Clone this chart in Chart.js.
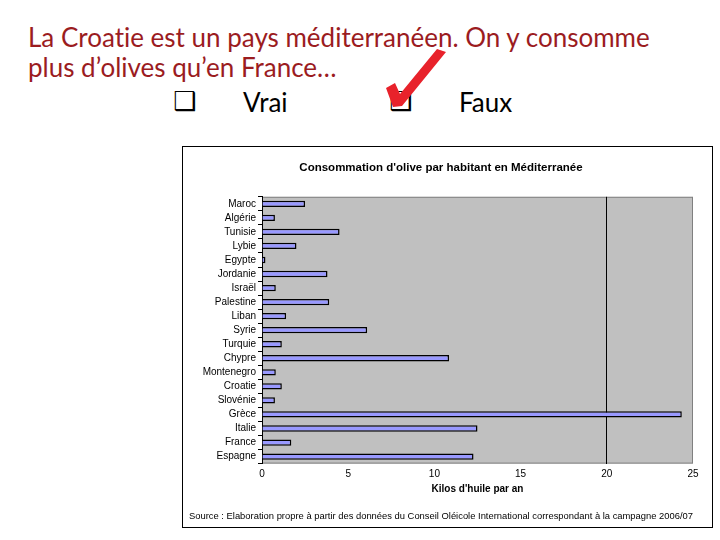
<!DOCTYPE html>
<html>
<head>
<meta charset="utf-8">
<script src="https://cdn.jsdelivr.net/npm/chart.js@4.4.1/dist/chart.umd.min.js"></script>
<style>
  html, body { margin: 0; padding: 0; background: #fff; width: 720px; height: 540px; overflow: hidden; }
  body { position: relative; }
  .question { position: absolute; left: 28px; top: 22px; font-family: Lato, 'Open Sans', sans-serif;
              font-size: 26px; line-height: 30px; color: #9b1c1f; white-space: nowrap;
              font-variant-ligatures: none; }
  .opt { position: absolute; top: 87px; font-family: Lato, 'Open Sans', sans-serif; font-size: 26px;
         line-height: 30px; color: #000; white-space: nowrap; }
  .box { font-family: 'DejaVu Sans', sans-serif; font-size: 26px; top: 86px; font-weight: bold; }
  #check { position: absolute; left: 0; top: 0; }
  #frame { position: absolute; left: 182px; top: 146px; width: 529px; height: 380px; border: 1px solid #000; }
  #chart { display: block; }
</style>
</head>
<body>
<div class="question">La Croatie est un pays méditerranéen. On y consomme<br>plus d’olives qu’en France…</div>
<div class="opt box" style="left:173px">❑</div>
<div class="opt" style="left:243px">Vrai</div>
<div class="opt box" style="left:389px">❑</div>
<div class="opt" style="left:459px">Faux</div>
<svg id="check" width="720" height="130">
  <polygon points="386,88 395,83 400,94 437,49 446,52 402,106 393,107" fill="#e8222b"/>
</svg>
<div id="frame"><canvas id="chart" width="529" height="380"></canvas></div>

<script>
// ── Data ─────────────────────────────────────────────────────────────

const COUNTRIES = ['Maroc', 'Algérie', 'Tunisie', 'Lybie', 'Egypte', 'Jordanie', 'Israël',
                   'Palestine', 'Liban', 'Syrie', 'Turquie', 'Chypre', 'Montenegro', 'Croatie',
                   'Slovénie', 'Grèce', 'Italie', 'France', 'Espagne'];
const KILOS     = [2.5, 0.75, 4.5, 2.0, 0.2, 3.8, 0.8, 3.9, 1.4, 6.1, 1.15, 10.85, 0.8, 1.15,
                   0.75, 24.35, 12.5, 1.7, 12.27];
const X_TICKS   = [0, 5, 10, 15, 20, 25];

const TITLE   = 'Consommation d\'olive par habitant en Méditerranée';
const X_TITLE = 'Kilos d\'huile par an';
const SOURCE  = 'Source : Elaboration propre à partir des données du Conseil Oléicole International correspondant à la campagne 2006/07';

const FONT = "'Liberation Sans', Arial, sans-serif";

// ── Plot area background (Excel grey) ───────────────────────────────

const plotBackground = {
  id: 'plotBackground',
  beforeDraw(chart) {
    const { ctx, chartArea: a } = chart;
    ctx.save();
    ctx.fillStyle = '#c0c0c0';
    ctx.fillRect(a.left, a.top, a.right - a.left, a.bottom - a.top);
    ctx.strokeStyle = '#808080';
    ctx.lineWidth = 1;
    ctx.strokeRect(a.left + 0.5, a.top + 0.5, a.right - a.left - 1, a.bottom - a.top - 1);
    ctx.restore();
  }
};

// ── Chart ────────────────────────────────────────────────────────────

new Chart(document.getElementById('chart'), {
  type: 'bar',
  data: {
    labels: COUNTRIES,
    datasets: [{
      data: KILOS,
      backgroundColor: '#9999ff',
      borderColor: '#000',
      borderWidth: 1.5,
      categoryPercentage: 1,
      barPercentage: 0.45,
    }]
  },
  options: {
    indexAxis: 'y',
    responsive: false,
    animation: false,
    layout: { padding: { left: 6, right: 19, top: 0, bottom: 0 } },
    plugins: {
      legend: { display: false },
      tooltip: { enabled: false },
      title: {
        display: true, text: TITLE, color: '#000',
        font: { family: FONT, size: 11.5, weight: 'bold' },
        padding: { top: 14, bottom: 22 }
      },
      subtitle: {
        display: true, position: 'bottom', text: SOURCE, color: '#000',
        font: { family: FONT, size: 9.5 },
        padding: { top: 7, bottom: 5 }
      }
    },
    scales: {
      x: {
        min: 0, max: 25,
        afterBuildTicks: s => { s.ticks = X_TICKS.map(v => ({ value: v })); },
        afterFit: s => { s.height = 40; },
        ticks: { color: '#000', font: { family: FONT, size: 10 }, padding: 5 },
        grid: {
          drawTicks: false,
          color: c => (c.tick && c.tick.value === 20 ? '#000' : 'rgba(0,0,0,0)'),
          lineWidth: 1
        },
        border: { display: false },
        title: {
          display: true, text: X_TITLE, color: '#000',
          font: { family: FONT, size: 10, weight: 'bold' },
          padding: { top: 0, bottom: 8 }
        }
      },
      y: {
        afterFit: s => { s.width = 73; },
        ticks: { color: '#000', font: { family: FONT, size: 10 }, padding: 2, autoSkip: false },
        grid: { drawOnChartArea: false, offset: true, tickColor: '#000', tickLength: 4 },
        border: { color: '#000', width: 1 }
      }
    }
  },
  plugins: [plotBackground]
});
</script>
</body>
</html>
